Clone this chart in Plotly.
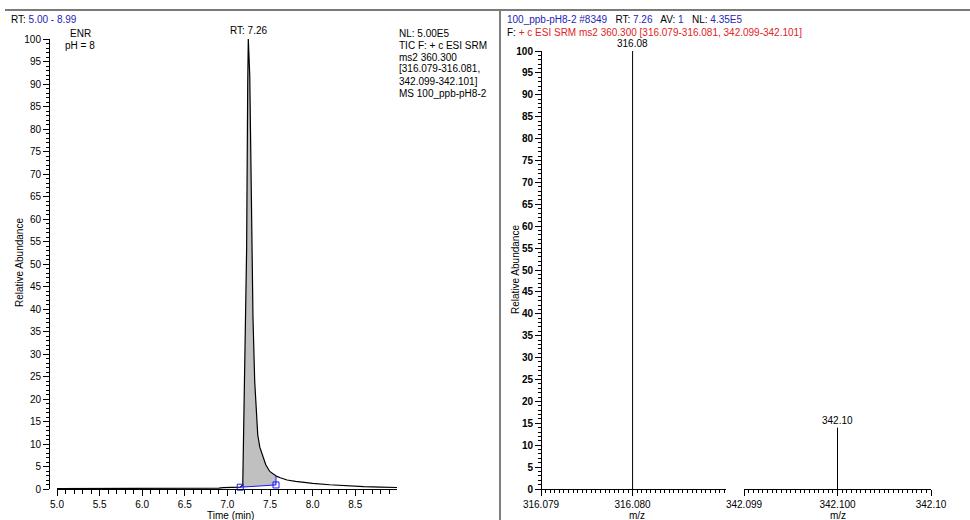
import numpy as np
import plotly.graph_objects as go

# ---------------- data ----------------
# chromatogram (left)
time_min = [5.00, 5.50, 6.00, 6.50, 6.90, 6.95, 7.05, 7.15, 7.18, 7.20, 7.225, 7.238, 7.245,
            7.262, 7.275, 7.288, 7.30, 7.32, 7.34, 7.356, 7.38, 7.415, 7.45, 7.497, 7.55,
            7.58, 7.62, 7.70, 7.80, 7.90, 8.00, 8.20, 8.40, 8.60, 8.80, 8.99]
rel_abund = [0.10, 0.10, 0.12, 0.15, 0.18, 0.30, 0.35, 0.40, 0.90, 24.0, 53.0, 90.0, 100.0,
             92.0, 72.0, 52.0, 38.0, 24.0, 16.0, 12.0, 9.3, 7.1, 5.4, 3.9, 3.1,
             2.8, 2.5, 2.0, 1.7, 1.45, 1.25, 0.95, 0.68, 0.52, 0.42, 0.33]
peak_start = (7.15, 0.40)   # integration baseline start (time, abundance)
peak_end = (7.57, 0.90)     # integration baseline end
peak_rt_label = "RT: 7.26"
peak_rt = 7.245

# spectrum (right)
mz_values = [316.0800, 342.1000]
mz_rel = [100.0, 14.0]
mz_labels = ["316.08", "342.10"]
seg1_ticks = [316.079, 316.080]
seg1_ticktext = ["316.079", "316.080"]
seg2_ticks = [342.099, 342.100, 342.101]
seg2_ticktext = ["342.099", "342.100", "342.10"]

W, H = 970, 520
FONT = "Arial, Liberation Sans, sans-serif"
BLUE = "#2424b8"
RED = "#e02424"


def px(x):
    return x / W


def py(y):
    return 1 - y / H


fig = go.Figure()

t = np.array(time_min)
a = np.array(rel_abund)

# integrated region
mask = (t > peak_start[0]) & (t < peak_end[0])
t_in = np.concatenate([[peak_start[0]], t[mask], [peak_end[0]]])
a_in = np.interp(t_in, t, a)
base_in = np.interp(t_in, [peak_start[0], peak_end[0]], [peak_start[1], peak_end[1]])

fig.add_trace(go.Scatter(x=t_in, y=base_in, mode="lines", line=dict(width=0, color="rgba(0,0,0,0)"),
                         xaxis="x", yaxis="y", showlegend=False, hoverinfo="skip"))
fig.add_trace(go.Scatter(x=t_in, y=a_in, mode="lines", line=dict(width=0, color="rgba(0,0,0,0)"),
                         fill="tonexty", fillcolor="#c0c0c0",
                         xaxis="x", yaxis="y", showlegend=False, hoverinfo="skip"))
# chromatogram line
fig.add_trace(go.Scatter(x=t, y=a, mode="lines", line=dict(width=1.2, color="black"),
                         xaxis="x", yaxis="y", showlegend=False))
# baseline + markers
end_curve = float(np.interp(peak_end[0], t, a))
fig.add_trace(go.Scatter(x=[peak_start[0], peak_end[0], peak_end[0]],
                         y=[peak_start[1], peak_end[1], end_curve],
                         mode="lines", line=dict(width=1, color="#1a1aff"),
                         xaxis="x", yaxis="y", showlegend=False))
fig.add_trace(go.Scatter(x=[peak_start[0], peak_end[0]], y=[peak_start[1], peak_end[1]],
                         mode="markers", marker=dict(symbol="square-open", size=6,
                                                     color="#1a1aff", line=dict(width=1)),
                         xaxis="x", yaxis="y", showlegend=False, cliponaxis=False))

# spectrum sticks
for i, (m, v) in enumerate(zip(mz_values, mz_rel)):
    xa = "x2" if i == 0 else "x3"
    fig.add_trace(go.Scatter(x=[m, m], y=[0, v], mode="lines", line=dict(width=1, color="black"),
                             xaxis=xa, yaxis="y2", showlegend=False))
    fig.add_annotation(x=m, y=v, xref=xa, yref="y2", text=mz_labels[i], showarrow=False,
                       yanchor="bottom", yshift=0, font=dict(size=10, color="black", family=FONT))

fig.add_annotation(x=peak_rt, y=100, xref="x", yref="y", text=peak_rt_label, showarrow=False,
                   yanchor="bottom", yshift=1, font=dict(size=10, color="black", family=FONT))

axis_common = dict(showgrid=False, zeroline=False, showline=True, linecolor="black", linewidth=1,
                   ticks="outside", tickcolor="black", ticklen=6, tickwidth=1, automargin=False,
                   tickfont=dict(size=10, family=FONT, color="black"))

fig.update_layout(
    template="none",
    width=W, height=H, margin=dict(l=0, r=0, t=0, b=0, pad=0, autoexpand=False),
    paper_bgcolor="white", plot_bgcolor="white",
    font=dict(family=FONT, size=10, color="black"),
    xaxis=dict(domain=[px(57), px(397)], range=[5.0, 8.99], anchor="y",
               tick0=5.0, dtick=0.5, tickformat=".1f",
               minor=dict(tick0=5.0, dtick=0.1, ticks="outside", ticklen=4, tickcolor="black"),
               **axis_common),
    yaxis=dict(domain=[31 / H, 481 / H], range=[0, 100], anchor="free", position=px(49),
               tick0=0, dtick=5,
               minor=dict(tick0=0, dtick=1, ticks="outside", ticklen=3, tickcolor="black"),
               **axis_common),
    xaxis2=dict(domain=[px(541), px(726)], range=[316.079, 316.08102], anchor="y2",
                tickmode="array", tickvals=seg1_ticks, ticktext=seg1_ticktext,
                minor=dict(tickmode="linear", tick0=316.079, dtick=0.00005, ticks="outside",
                           ticklen=3, tickcolor="black"),
                **axis_common),
    xaxis3=dict(domain=[px(744), px(931)], range=[342.099, 342.101], anchor="y2",
                tickmode="array", tickvals=seg2_ticks, ticktext=seg2_ticktext,
                minor=dict(tickmode="linear", tick0=342.099, dtick=0.00005, ticks="outside",
                           ticklen=3, tickcolor="black"),
                **axis_common),
    yaxis2=dict(domain=[31 / H, 469 / H], range=[0, 100], anchor="free", position=px(541),
                tick0=0, dtick=5,
                minor=dict(tick0=0, dtick=1, ticks="outside", ticklen=3, tickcolor="black"),
                showgrid=False, zeroline=False, showline=True, linecolor="black", linewidth=1,
                ticks="outside", tickcolor="black", ticklen=6, tickwidth=1, automargin=False,
                tickfont=dict(size=10, family=FONT, color="black", weight="bold")),
)

# frame lines
fig.add_shape(type="line", xref="paper", yref="paper", x0=px(5), x1=px(970), y0=py(10), y1=py(10),
              line=dict(color="#7a7a7a", width=2))
fig.add_shape(type="line", xref="paper", yref="paper", x0=px(500), x1=px(500), y0=py(11), y1=py(520),
              line=dict(color="black", width=1))


def txt(x, y, s, xanchor="left", size=10, color="black", angle=0, weight="normal"):
    fig.add_annotation(x=px(x), y=py(y), xref="paper", yref="paper", text=s, showarrow=False,
                       xanchor=xanchor, yanchor="middle", textangle=angle,
                       font=dict(size=size, color=color, family=FONT, weight=weight))


txt(9, 20, f"RT: <span style='color:{BLUE}'>5.00 - 8.99</span>")
txt(80, 33, "ENR", xanchor="center")
txt(80, 45, "pH = 8", xanchor="center")
info = ["NL: 5.00E5", "TIC F: + c ESI SRM", "ms2 360.300", "[316.079-316.081,",
        "342.099-342.101]", "MS 100_ppb-pH8-2"]
for i, s in enumerate(info):
    txt(397, 33 + i * 12, s)

txt(505, 20, f"<span style='color:{BLUE}'>100_ppb-pH8-2 #8349</span>   RT: "
             f"<span style='color:{BLUE}'>7.26</span>   AV: <span style='color:{BLUE}'>1</span>"
             f"   NL: <span style='color:{BLUE}'>4.35E5</span>")
txt(505, 32, f"F: <span style='color:{RED}'>+ c ESI SRM ms2 360.300 [316.079-316.081, 342.099-342.101]</span>")

txt(230, 515, "Time (min)", xanchor="center")
txt(637, 515, "m/z", xanchor="center")
txt(838, 515, "m/z", xanchor="center")
txt(19, 263, "Relative Abundance", xanchor="center", angle=-90)
txt(515, 270, "Relative Abundance", xanchor="center", angle=-90, weight=500)

fig.write_html("out.html", config={"displayModeBar": False},
               post_script="document.body.style.margin='0';document.body.style.overflow='hidden';")
